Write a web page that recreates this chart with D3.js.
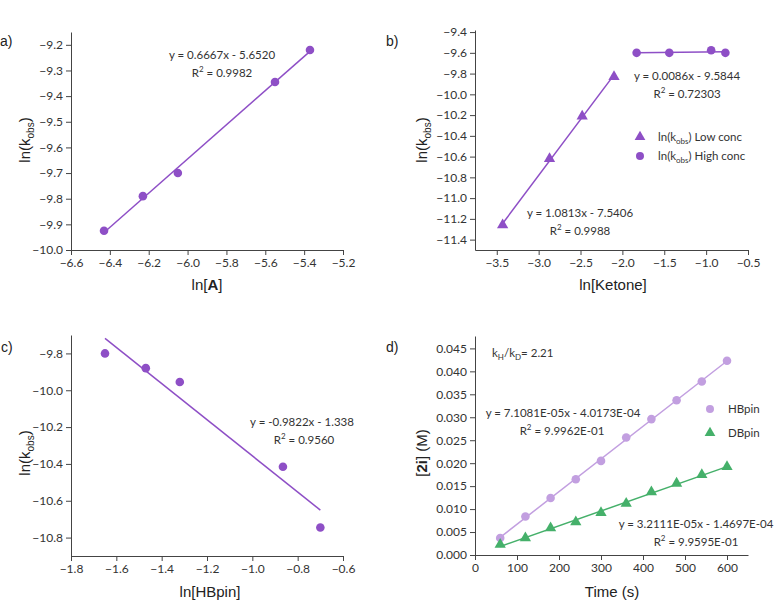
<!DOCTYPE html>
<html>
<head>
<meta charset="utf-8">
<script src="https://cdn.jsdelivr.net/npm/d3@7"></script>
<style>
  body { margin: 0; background: #fff; }
  svg text { font-family: Lato, "Open Sans", sans-serif; fill: #333; }
  .axis path, .axis line { stroke: #444; }
  .axis text { font-family: Lato, "Open Sans", sans-serif; font-size: 12px; fill: #333; }
  .title { font-family: "Liberation Sans", Arial, sans-serif; font-size: 15px; fill: #222; }
  .note { font-size: 11.5px; }
  .tag { font-family: "Liberation Sans", Arial, sans-serif; font-size: 14px; fill: #222; }
</style>
</head>
<body>
<svg id="chart" width="780" height="600"></svg>
<script>
// a) ln(kobs) vs ln[A]
const aX = [-6.43, -6.23, -6.05, -5.55, -5.37];
const aY = [-9.925, -9.79, -9.70, -9.345, -9.22];

// b) ln(kobs) vs ln[Ketone], two concentration regimes
const bLowX = [-3.43, -2.87, -2.48, -2.10];
const bLowY = [-11.26, -10.62, -10.21, -9.83];
const bHighX = [-1.83, -1.44, -0.94, -0.77];
const bHighY = [-9.60, -9.60, -9.575, -9.60];

// c) ln(kobs) vs ln[HBpin]
const cX = [-1.65, -1.47, -1.32, -0.865, -0.70];
const cY = [-9.80, -9.88, -9.955, -10.415, -10.745];

// d) [2i] vs time, HBpin / DBpin
const dTime = [60, 120, 180, 240, 300, 360, 420, 480, 540, 600];
const dHBpin = [0.0037, 0.0084, 0.0124, 0.0165, 0.0205, 0.0256, 0.0296, 0.0337, 0.0378, 0.0423];
const dDBpin = [0.0023, 0.0037, 0.0059, 0.0072, 0.0092, 0.0112, 0.0137, 0.0156, 0.0175, 0.0192];

// tick values
const aXTicks = [-6.6, -6.4, -6.2, -6.0, -5.8, -5.6, -5.4, -5.2];
const aYTicks = [-10.0, -9.9, -9.8, -9.7, -9.6, -9.5, -9.4, -9.3, -9.2];
const bXTicks = [-3.5, -3.0, -2.5, -2.0, -1.5, -1.0, -0.5];
const bYTicks = [-11.4, -11.2, -11.0, -10.8, -10.6, -10.4, -10.2, -10.0, -9.8, -9.6, -9.4];
const cXTicks = [-1.8, -1.6, -1.4, -1.2, -1.0, -0.8, -0.6];
const cYTicks = [-10.8, -10.6, -10.4, -10.2, -10.0, -9.8];
const dXTicks = [0, 100, 200, 300, 400, 500, 600];
const dYTicks = [0, 0.005, 0.010, 0.015, 0.020, 0.025, 0.030, 0.035, 0.040, 0.045];

const purple = '#8e4fc6';
const lilac = '#c29fe0';
const green = '#45b06a';

const svg = d3.select('#chart');

// least squares fit through the plotted points
function fit(xs, ys) {
  const mx = d3.mean(xs), my = d3.mean(ys);
  const sxy = d3.sum(xs, (x, i) => (x - mx) * (ys[i] - my));
  const sxx = d3.sum(xs, x => (x - mx) * (x - mx));
  const m = sxy / sxx;
  return x => m * x + (my - m * mx);
}

function minorsOf(ticks, lo, hi) {
  const step = (ticks[1] - ticks[0]) / 2;
  const out = [];
  for (let v = ticks[0] - step; v <= hi + 1e-9; v += step) {
    if (v >= lo - 1e-9) out.push(v);
  }
  return out;
}

function axes(x, y, xt, yt, xf, yf) {
  const xd = x.domain(), yd = y.domain();
  const gx = svg.append('g').attr('class', 'axis').attr('transform', `translate(0,${y.range()[0]})`);
  gx.call(d3.axisBottom(x).tickValues(minorsOf(xt, xd[0], xd[1])).tickSize(3).tickFormat(''));
  gx.call(d3.axisBottom(x).tickValues(xt).tickSize(5).tickSizeOuter(0).tickPadding(3).tickFormat(xf));

  const gy = svg.append('g').attr('class', 'axis').attr('transform', `translate(${x.range()[0]},0)`);
  gy.call(d3.axisLeft(y).tickValues(minorsOf(yt, yd[0], yd[1])).tickSize(3).tickFormat(''));
  gy.call(d3.axisLeft(y).tickValues(yt).tickSize(5).tickSizeOuter(0).tickPadding(3).tickFormat(yf));
}

function fitLine(x, y, xs, ys, color) {
  const f = fit(xs, ys);
  const ends = d3.extent(xs);
  svg.append('path')
    .attr('d', d3.line().x(d => x(d)).y(d => y(f(d)))(ends))
    .attr('fill', 'none')
    .attr('stroke', color)
    .attr('stroke-width', 1.5);
}

function dots(x, y, xs, ys, color, shape) {
  const sym = d3.symbol().type(shape === 'tri' ? d3.symbolTriangle : d3.symbolCircle).size(shape === 'tri' ? 55 : 58);
  svg.append('g').selectAll('path')
    .data(xs)
    .enter()
    .append('path')
    .attr('d', sym)
    .attr('transform', (d, i) => `translate(${x(d)},${y(ys[i])})`)
    .attr('fill', color);
}

function kobsTitle(cx, cy) {
  const t = svg.append('text').attr('class', 'title')
    .attr('transform', `translate(${cx},${cy}) rotate(-90)`)
    .attr('text-anchor', 'middle').attr('dy', '0.35em');
  t.append('tspan').text('ln(k');
  t.append('tspan').text('obs').attr('font-size', '10px').attr('dy', '4');
  t.append('tspan').text(')').attr('dy', '-4');
}

function rSquared(cx, cy, val) {
  const t = svg.append('text').attr('class', 'note').attr('x', cx).attr('y', cy)
    .attr('text-anchor', 'middle').attr('dy', '0.35em');
  t.append('tspan').text('R');
  t.append('tspan').text('2').attr('font-size', '8px').attr('dy', '-5');
  t.append('tspan').text(' = ' + val).attr('dy', '5');
}

function note(cx, cy, txt) {
  svg.append('text').attr('class', 'note').attr('x', cx).attr('y', cy)
    .attr('text-anchor', 'middle').attr('dy', '0.35em').text(txt);
}

function tag(x0, cy, txt) {
  svg.append('text').attr('class', 'tag').attr('x', x0).attr('y', cy).attr('dy', '0.35em').text(txt);
}

const f1 = d3.format('.1f');

// ---------- a) ----------
{
  const x = d3.scaleLinear().domain([-6.6, -5.2]).range([71, 343]);
  const y = d3.scaleLinear().domain([-10.0, -9.15]).range([250, 32]);
  axes(x, y, aXTicks, aYTicks, f1, f1);
  fitLine(x, y, aX, aY, purple);
  dots(x, y, aX, aY, purple, 'circle');
  note(222, 55, 'y = 0.6667x - 5.6520');
  rSquared(222, 73, '0.9982');
  kobsTitle(25, 140);
  const t = svg.append('text').attr('class', 'title').attr('x', 207).attr('y', 285)
    .attr('text-anchor', 'middle').attr('dy', '0.35em');
  t.append('tspan').text('ln[');
  t.append('tspan').text('A').attr('font-weight', 'bold');
  t.append('tspan').text(']');
  tag(0, 41, 'a)');
}

// ---------- b) ----------
{
  const x = d3.scaleLinear().domain([-3.76, -0.5]).range([475, 748]);
  const y = d3.scaleLinear().domain([-11.5, -9.38]).range([250, 30]);
  axes(x, y, bXTicks, bYTicks, f1, f1);
  fitLine(x, y, bLowX, bLowY, purple);
  fitLine(x, y, bHighX, bHighY, purple);
  dots(x, y, bLowX, bLowY, purple, 'tri');
  dots(x, y, bHighX, bHighY, purple, 'circle');
  note(687, 76, 'y = 0.0086x - 9.5844');
  rSquared(687, 94, '0.72303');
  note(580, 213, 'y = 1.0813x - 7.5406');
  rSquared(580, 231, '0.9988');

  const legend = [['tri', 'Low conc', 137], ['circle', 'High conc', 156]];
  legend.forEach(([shape, label, ly]) => {
    svg.append('path')
      .attr('d', d3.symbol().type(shape === 'tri' ? d3.symbolTriangle : d3.symbolCircle).size(50))
      .attr('transform', `translate(640,${ly})`).attr('fill', purple);
    const t = svg.append('text').attr('class', 'note').attr('x', 658).attr('y', ly).attr('dy', '0.35em');
    t.append('tspan').text('ln(k');
    t.append('tspan').text('obs').attr('font-size', '8px').attr('dy', '3');
    t.append('tspan').text(') ' + label).attr('dy', '-3');
  });

  kobsTitle(422, 140);
  svg.append('text').attr('class', 'title').attr('x', 613).attr('y', 285)
    .attr('text-anchor', 'middle').attr('dy', '0.35em').text('ln[Ketone]');
  tag(386, 41, 'b)');
}

// ---------- c) ----------
{
  const x = d3.scaleLinear().domain([-1.8, -0.6]).range([71, 343]);
  const y = d3.scaleLinear().domain([-10.9, -9.7]).range([556, 335]);
  axes(x, y, cXTicks, cYTicks, f1, f1);
  fitLine(x, y, cX, cY, purple);
  dots(x, y, cX, cY, purple, 'circle');
  note(302, 422, 'y = -0.9822x - 1.338');
  rSquared(304, 440, '0.9560');
  kobsTitle(25, 453);
  svg.append('text').attr('class', 'title').attr('x', 210).attr('y', 592)
    .attr('text-anchor', 'middle').attr('dy', '0.35em').text('ln[HBpin]');
  tag(1, 347, 'c)');
}

// ---------- d) ----------
{
  const x = d3.scaleLinear().domain([0, 650]).range([475, 748]);
  const y = d3.scaleLinear().domain([0, 0.0477]).range([555, 336]);
  axes(x, y, dXTicks, dYTicks, d3.format('d'), d3.format('.3f'));
  fitLine(x, y, dTime, dHBpin, lilac);
  fitLine(x, y, dTime, dDBpin, green);
  dots(x, y, dTime, dHBpin, lilac, 'circle');
  dots(x, y, dTime, dDBpin, green, 'tri');

  const k = svg.append('text').attr('class', 'note').attr('x', 492).attr('y', 353).attr('dy', '0.35em');
  k.append('tspan').text('k');
  k.append('tspan').text('H').attr('font-size', '8px').attr('dy', '3');
  k.append('tspan').text('/k').attr('dy', '-3');
  k.append('tspan').text('D').attr('font-size', '8px').attr('dy', '3');
  k.append('tspan').text('= 2.21').attr('dy', '-3');

  note(563, 413, 'y = 7.1081E-05x - 4.0173E-04');
  rSquared(562, 431, '9.9962E-01');
  note(696, 524, 'y = 3.2111E-05x - 1.4697E-04');
  rSquared(696, 542, '9.9595E-01');

  const legend = [['circle', 'HBpin', lilac, 409], ['tri', 'DBpin', green, 433]];
  legend.forEach(([shape, label, color, ly]) => {
    svg.append('path')
      .attr('d', d3.symbol().type(shape === 'tri' ? d3.symbolTriangle : d3.symbolCircle).size(50))
      .attr('transform', `translate(710,${ly})`).attr('fill', color);
    svg.append('text').attr('class', 'note').attr('x', 728).attr('y', ly).attr('dy', '0.35em').text(label);
  });

  const t = svg.append('text').attr('class', 'title')
    .attr('transform', 'translate(422,453) rotate(-90)')
    .attr('text-anchor', 'middle').attr('dy', '0.35em');
  t.append('tspan').text('[');
  t.append('tspan').text('2i').attr('font-weight', 'bold');
  t.append('tspan').text('] (M)');
  svg.append('text').attr('class', 'title').attr('x', 612).attr('y', 592)
    .attr('text-anchor', 'middle').attr('dy', '0.35em').text('Time (s)');
  tag(386, 347, 'd)');
}
</script>
</body>
</html>
